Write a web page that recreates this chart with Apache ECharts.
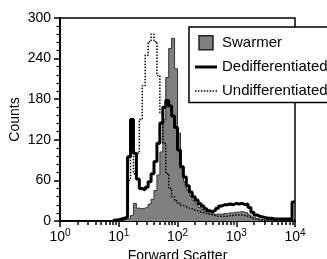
<!DOCTYPE html>
<html>
<head>
<meta charset="utf-8">
<script src="https://cdn.jsdelivr.net/npm/echarts@6/dist/echarts.min.js"></script>
<style>
  html, body { margin: 0; padding: 0; background: #fff; }
  #chart { width: 327px; height: 259px; }
</style>
</head>
<body>
<div id="chart"></div>
<script>
// histogram bins in log10(forward scatter), left edges start at binStart
const binStart = 0.9;
const binWidth = 0.05;
const seriesNames = ["Swarmer", "Dedifferentiated", "Undifferentiated"];
const decades = [0, 1, 2, 3, 4];
const yTicks = [0, 60, 120, 180, 240, 300];

const swarmer = [1, 1, 2, 3, 3, 4, 8, 26, 19, 18, 19, 21, 25, 32, 45, 68, 102, 150, 212, 255,
  270, 225, 130, 78, 58, 46, 37, 30, 25, 20, 17, 14, 12, 11, 10, 10, 10, 11, 11, 12,
  12, 13, 13, 14, 13, 12, 9, 6, 4, 3, 2, 2, 2, 2, 1, 1, 1, 1, 1, 1, 1, 2];
const dediff = [1, 2, 3, 4, 6, 95, 150, 100, 62, 48, 46, 50, 58, 70, 88, 115, 145, 168, 178, 170,
  155, 138, 105, 80, 65, 52, 43, 36, 31, 26, 22, 18, 15, 14, 16, 19, 22, 24, 24, 25,
  24, 26, 25, 26, 24, 25, 20, 13, 9, 7, 6, 5, 4, 4, 3, 3, 3, 3, 3, 3, 3, 28];
const undiff = [0, 1, 1, 2, 4, 60, 110, 70, 100, 150, 200, 245, 265, 276, 265, 215, 160, 115, 70, 48,
  36, 30, 26, 23, 21, 19, 18, 16, 15, 13, 12, 11, 10, 9, 8, 7, 7, 7, 7, 8,
  8, 9, 9, 9, 8, 7, 5, 3, 2, 2, 1, 1, 1, 1, 1, 1, 1, 1, 1, 1, 1, 1];

const font = "'Liberation Sans', Arial, sans-serif";

function toSteps(values) {
  const pts = values.map((v, i) => [+(binStart + i * binWidth).toFixed(2), v]);
  pts.push([+(binStart + values.length * binWidth).toFixed(2), values[values.length - 1]]);
  return pts;
}

// log minor ticks 2..9 within each decade
const minorTicks = [];
for (let d = 0; d < decades.length - 1; d++) {
  for (let k = 2; k <= 9; k++) minorTicks.push(decades[d] + Math.log10(k));
}

// legend glyphs: thick bar and dotted bar
const solidIcon = "path://M0,0H22V3H0Z";
const dottedIcon = "path://M0,0h1.5v1.5h-1.5z M3,0h1.5v1.5h-1.5z M6,0h1.5v1.5h-1.5z M9,0h1.5v1.5h-1.5z " +
  "M12,0h1.5v1.5h-1.5z M15,0h1.5v1.5h-1.5z M18,0h1.5v1.5h-1.5z M21,0h1.5v1.5h-1.5z";

const chart = echarts.init(document.getElementById("chart"));
chart.setOption({
  animation: false,
  textStyle: { fontFamily: font, color: "#000" },
  grid: {
    left: 60, right: 32, top: 18, bottom: 38,
    outerBoundsMode: "none",
    show: true, borderColor: "#000", borderWidth: 1.5
  },
  legend: {
    orient: "vertical",
    left: 189,
    top: 27,
    padding: [8, 4, 4, 6],
    itemGap: 9,
    itemWidth: 22,
    itemHeight: 14,
    borderColor: "#000",
    borderWidth: 1.5,
    backgroundColor: "#fff",
    textStyle: { fontSize: 15, color: "#000", fontFamily: font },
    data: [
      { name: seriesNames[0], icon: "path://M0,0H10V10H0Z",
        itemStyle: { color: "#808080", borderColor: "#222", borderWidth: 1.5 } },
      { name: seriesNames[1], icon: solidIcon, itemStyle: { color: "#000", borderWidth: 0 } },
      { name: seriesNames[2], icon: dottedIcon, itemStyle: { color: "#000", borderWidth: 0 } }
    ]
  },
  xAxis: [
    {
      type: "value",
      min: decades[0],
      max: decades[decades.length - 1],
      interval: 1,
      axisLine: { show: true, onZero: false, lineStyle: { color: "#000", width: 2 } },
      axisTick: { show: true, length: 6, lineStyle: { color: "#000", width: 1.5 } },
      axisLabel: {
        margin: 7,
        color: "#000",
        formatter: v => "{b|10}{s|" + v + "}",
        rich: {
          b: { fontSize: 14, fontFamily: font },
          s: { fontSize: 10, fontFamily: font, padding: [0, 0, 9, 0] }
        }
      },
      splitLine: { show: false },
      name: "Forward Scatter",
      nameLocation: "middle",
      nameGap: 28,
      nameMoveOverlap: false,
      nameTextStyle: { fontSize: 14, color: "#000" }
    },
    {
      type: "value",
      min: decades[0],
      max: decades[decades.length - 1],
      position: "bottom",
      axisLine: { show: false },
      axisLabel: { show: false },
      splitLine: { show: false },
      axisTick: { show: true, length: 4, customValues: minorTicks, lineStyle: { color: "#000", width: 1.5 } }
    }
  ],
  yAxis: {
    type: "value",
    min: yTicks[0],
    max: yTicks[yTicks.length - 1],
    interval: 60,
    axisLine: { show: true, lineStyle: { color: "#000", width: 2 } },
    axisTick: { show: true, length: 6, lineStyle: { color: "#000", width: 1.5 } },
    minorTick: { show: true, splitNumber: 5, length: 3.5, lineStyle: { color: "#000", width: 1.2 } },
    axisLabel: { fontSize: 14, color: "#000", margin: 9 },
    splitLine: { show: false },
    name: "Counts",
    nameLocation: "middle",
    nameGap: 38,
    nameMoveOverlap: false,
    nameTextStyle: { fontSize: 14, color: "#000" }
  },
  series: [
    {
      name: seriesNames[0],
      type: "line",
      step: "end",
      symbol: "none",
      data: toSteps(swarmer),
      itemStyle: { color: "#808080" },
      lineStyle: { color: "#333", width: 1 },
      areaStyle: { color: "#808080", opacity: 1 }
    },
    {
      name: seriesNames[1],
      type: "line",
      step: "end",
      symbol: "none",
      data: toSteps(dediff),
      itemStyle: { color: "#000" },
      lineStyle: { color: "#000", width: 3 }
    },
    {
      name: seriesNames[2],
      type: "line",
      step: "end",
      symbol: "none",
      data: toSteps(undiff),
      itemStyle: { color: "#000" },
      lineStyle: { color: "#000", width: 1.5, type: [1.5, 1.5] }
    }
  ]
});
</script>
</body>
</html>
